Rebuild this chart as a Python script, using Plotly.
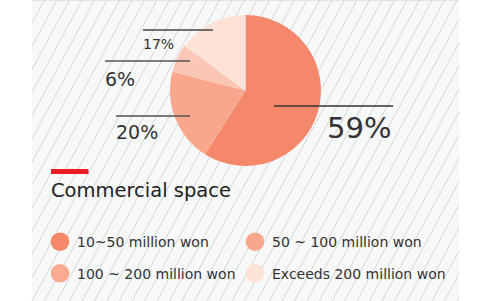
import plotly.graph_objects as go

W, H = 477, 301

# ---- data ----
categories = ["10~50 million won", "50 ~ 100 million won",
              "100 ~ 200 million won", "Exceeds 200 million won"]
slice_values = [59, 20, 6, 15]          # angular shares as drawn
slice_labels = ["59%", "20%", "6%", "17%"]  # printed labels
slice_colors = ["#F5876A", "#F8A78D", "#FBC6B4", "#FDE2D8"]
legend_colors = ["#F5876A", "#F8A78D", "#F9AA90", "#FDE2D8"]
chart_title = "Commercial space"

FONT = "DejaVu Sans"
TXT = "#333333"


def px(x):
    return x / W


def py(y):
    return 1 - y / H


fig = go.Figure()

# pie: center (245.5, 90.5), r 75.5
cx, cy, r = 245.5, 90.5, 75.5
fig.add_trace(go.Pie(
    values=slice_values,
    labels=categories,
    text=slice_labels,
    marker=dict(colors=slice_colors, line=dict(width=0)),
    sort=False, direction="clockwise", rotation=0,
    textinfo="none", hoverinfo="label+text", showlegend=False,
    domain=dict(x=[px(cx - r), px(cx + r)], y=[py(cy + r), py(cy - r)]),
))

shapes = []
# panel background
PX0, PX1 = 32, 459
shapes.append(dict(type="rect", xref="paper", yref="paper", layer="below",
                   x0=px(PX0), x1=px(PX1), y0=0, y1=py(0.5),
                   fillcolor="#F7F8F8", line=dict(width=0)))
shapes.append(dict(type="line", xref="paper", yref="paper", layer="below",
                   x0=px(PX0), x1=px(PX1), y0=py(0.6), y1=py(0.6),
                   line=dict(color="#E2E2E2", width=1)))
# diagonal hatching
k = 0.54
step = 12.5
b = PX0 - k * H - step
while b < PX1 + step:
    y_at_x0 = H - (PX0 - b) / k
    y_at_x1 = H - (PX1 - b) / k
    ylo = max(0.0, y_at_x1)
    yhi = min(float(H), y_at_x0)
    if yhi > ylo:
        x_lo = b + k * (H - ylo)
        x_hi = b + k * (H - yhi)
        shapes.append(dict(type="line", xref="paper", yref="paper", layer="below",
                           x0=px(x_hi), y0=py(yhi), x1=px(x_lo), y1=py(ylo),
                           line=dict(color="#D6D6D6", width=1)))
    b += step

# red bar
shapes.append(dict(type="rect", xref="paper", yref="paper",
                   x0=px(51), x1=px(88.5), y0=py(174), y1=py(169),
                   fillcolor="#EC1C24", line=dict(width=0)))

# leader lines
leaders = [((274, 393, 106), "#333333"),
           ((116, 190, 116), "#555555"),
           ((105, 190, 61), "#555555"),
           ((143, 213, 30), "#444444")]
for (x0, x1, y), c in leaders:
    shapes.append(dict(type="line", xref="paper", yref="paper", layer="above",
                       x0=px(x0), x1=px(x1), y0=py(y), y1=py(y),
                       line=dict(color=c, width=1.3)))

annotations = []
label_pos = [(325, 128, 29), (114, 132, 19), (103, 78.5, 19), (141, 43.5, 14)]
for lab, (x, y, s) in zip(slice_labels, label_pos):
    annotations.append(dict(x=px(x), y=py(y), xref="paper", yref="paper",
                            xanchor="left", yanchor="middle", showarrow=False,
                            text=lab, font=dict(family=FONT, size=s, color=TXT)))

annotations.append(dict(x=px(48.5), y=py(190.5), xref="paper", yref="paper",
                        xanchor="left", yanchor="middle", showarrow=False,
                        text=chart_title, font=dict(family=FONT, size=19.5, color="#222222")))

# legend
leg_pos = [(60, 241.7), (255, 241.7), (60, 273.3), (255, 273.3)]
for cat, col, (x, y) in zip(categories, legend_colors, leg_pos):
    rr = 9.3
    shapes.append(dict(type="circle", xref="paper", yref="paper",
                       x0=px(x - rr), x1=px(x + rr), y0=py(y + rr), y1=py(y - rr),
                       fillcolor=col, line=dict(width=0)))
    annotations.append(dict(x=px(x + 14.5), y=py(y + 0.3), xref="paper", yref="paper",
                            xanchor="left", yanchor="middle", showarrow=False,
                            text=cat, font=dict(family=FONT, size=14, color=TXT)))

fig.update_layout(width=W, height=H, margin=dict(l=0, r=0, t=0, b=0),
                  paper_bgcolor="white", plot_bgcolor="white",
                  shapes=shapes, annotations=annotations, showlegend=False)

fig.write_html("out.html", config={"displayModeBar": False},
               post_script="document.body.style.margin='0';document.body.style.padding='0';document.body.style.overflow='hidden';")
